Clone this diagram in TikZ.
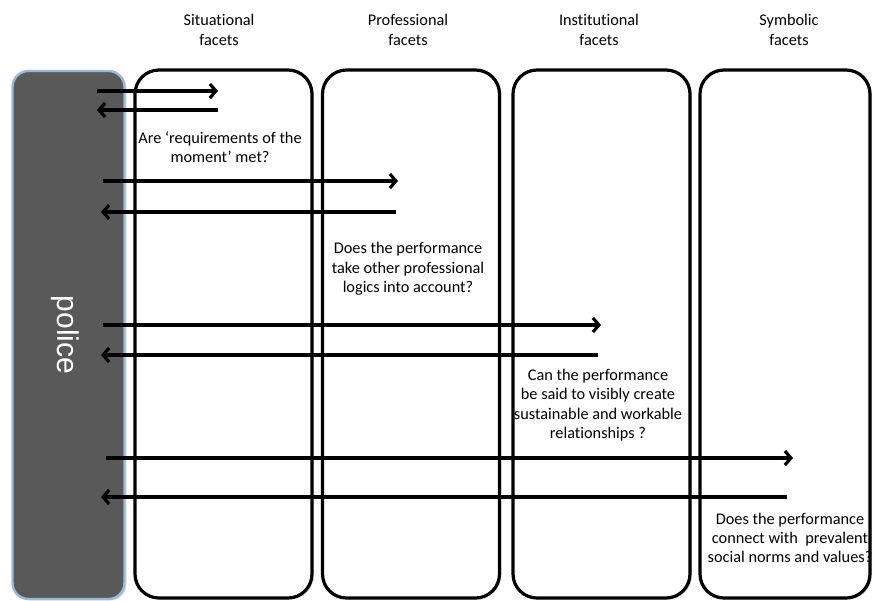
\documentclass[tikz,border=0pt]{standalone}
\usepackage{fontspec}
\setmainfont[Ligatures=NoCommon]{Carlito}
\newfontfamily\policefont{Liberation Sans}
\usetikzlibrary{arrows.meta,shadows}

\begin{document}
\begin{tikzpicture}[x=1pt,y=-1pt]
		\tikzset{facet/.style = {shape=rectangle,draw,fill=white,line width=3.2pt,rounded corners=24pt,minimum width=177pt,minimum height=528pt,drop shadow={shadow xshift=2pt,shadow yshift=-1.5pt,opacity=0.25}}}
		\tikzset{flow/.style = {line width=3.2pt,-{Straight Barb[length=6pt,width=14pt]}}}
		\tikzset{heading/.style = {align=center,font=\fontsize{16.3}{20}\selectfont}}
		\tikzset{question/.style = {align=center,font=\fontsize{16.3}{19.3}\selectfont}}
		\definecolor{policegray}{HTML}{595959}
		\definecolor{policeblue}{HTML}{9BB7D9}
		
		\useasboundingbox (0,0) rectangle (874,600);
		
		\node[shape=rectangle,fill=policegray,draw=policeblue,line width=2.4pt,rounded corners=16pt,minimum width=112pt,minimum height=528pt,drop shadow={shadow xshift=2pt,shadow yshift=-1.5pt,opacity=0.25}] (police) at (68.5,335) {};
		\node[rotate=-90,text=white,font=\policefont\fontsize{30}{30}\selectfont] (policelabel) at (65,335) {police};
		
		\node[facet] (sit) at (223.5,334) {};
		\node[facet] (prof) at (411,334) {};
		\node[facet] (inst) at (601.5,334) {};
		\node[facet,minimum width=170pt] (symb) at (785,334) {};
		
		\node[heading] (sith) at (219,30) {Situational\\facets};
		\node[heading] (profh) at (408,30) {Professional\\facets};
		\node[heading] (insth) at (599,30) {Institutional\\facets};
		\node[heading] (symbh) at (789,30) {Symbolic\\facets};
		
		\node[question] (sitq) at (220,147) {Are `requirements of the\\moment' met?};
		\node[question] (profq) at (408,269) {Does the performance\\take other professional\\logics into account?};
		\node[question] (instq) at (598,405) {Can the performance\\be said to visibly create\\sustainable and workable\\relationships ?};
		\node[question] (symbq) at (790,538) {Does the performance\\connect with\ \ prevalent\\social norms and values?};
		
		\coordinate (p1) at (97,91);
		\coordinate (s1) at (218,91);
		\coordinate (s2) at (218,110);
		\coordinate (p2) at (97,110);
		\coordinate (p3) at (103,181);
		\coordinate (s3) at (398,181);
		\coordinate (s4) at (396,212);
		\coordinate (p4) at (101,212);
		\coordinate (p5) at (103,325);
		\coordinate (s5) at (601,325);
		\coordinate (s6) at (598,355);
		\coordinate (p6) at (101,355);
		\coordinate (p7) at (106,458);
		\coordinate (s7) at (793,458);
		\coordinate (s8) at (787,497);
		\coordinate (p8) at (101,497);
		
		\draw[flow] (p1) -- (s1);
		\draw[flow] (s2) -- (p2);
		\draw[flow] (p3) -- (s3);
		\draw[flow] (s4) -- (p4);
		\draw[flow] (p5) -- (s5);
		\draw[flow] (s6) -- (p6);
		\draw[flow] (p7) -- (s7);
		\draw[flow] (s8) -- (p8);
\end{tikzpicture}
\end{document}
